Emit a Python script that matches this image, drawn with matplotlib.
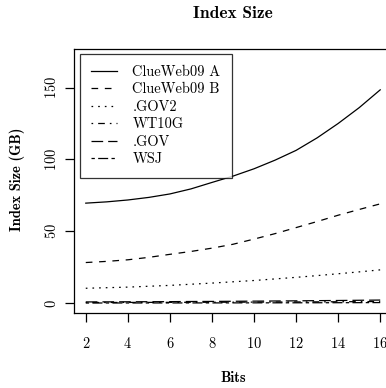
import matplotlib
matplotlib.use("Agg")
import matplotlib.pyplot as plt

plt.rcParams["font.family"] = ["cmr10", "DejaVu Serif"]
plt.rcParams["axes.formatter.use_mathtext"] = True
plt.rcParams["lines.scale_dashes"] = False

bits = [2, 3, 4, 5, 6, 7, 8, 9, 10, 11, 12, 13, 14, 15, 16]
clueweb_a = [69.6, 70.5, 71.8, 73.6, 76.0, 79.5, 84.0, 88.4, 93.5, 99.5, 106.3, 115.0, 125.0, 136.0, 148.4]
clueweb_b = [28.3, 29.1, 30.2, 31.9, 34.0, 36.0, 38.3, 41.0, 44.6, 48.4, 52.6, 56.8, 61.2, 65.2, 69.1]
gov2 = [10.4, 10.8, 11.2, 11.8, 12.4, 13.2, 14.0, 14.9, 15.8, 16.9, 18.0, 19.2, 20.5, 21.8, 23.2]
wt10g = [0.5, 0.52, 0.55, 0.58, 0.6, 0.64, 0.68, 0.72, 0.77, 0.82, 0.88, 0.95, 1.02, 1.1, 1.2]
gov = [0.9, 0.95, 1.0, 1.05, 1.1, 1.2, 1.25, 1.35, 1.45, 1.55, 1.65, 1.8, 1.9, 2.05, 2.2]
wsj = [0.15, 0.16, 0.17, 0.18, 0.19, 0.2, 0.22, 0.24, 0.26, 0.28, 0.3, 0.33, 0.36, 0.4, 0.45]

labels = ["ClueWeb09 A", "ClueWeb09 B", ".GOV2", "WT10G", ".GOV", "WSJ"]
series = [clueweb_a, clueweb_b, gov2, wt10g, gov, wsj]
# R lty 1..6
styles = ["-", (0, (4.8, 4.8)), (0, (1.2, 3.6)), (0, (1.2, 3.6, 4.8, 3.6)),
          (0, (8.4, 3.6)), (0, (2.4, 2.4, 7.2, 2.4))]

fs = 10.4
fig = plt.figure(figsize=(3.86, 3.88), dpi=100)
ax = fig.add_axes([0.1917, 0.1933, 0.8238, 0.6804])

for vals, lab, ls in zip(series, labels, styles):
    ax.plot(bits, vals, color="black", linewidth=0.9, linestyle=ls, label=lab)

ax.set_xlim(1.44, 16.56)
ax.set_ylim(-6.8, 176.8)
ax.set_xticks(range(2, 17, 2))
ax.set_yticks([0, 50, 100, 150])
for s in ax.spines.values():
    s.set_linewidth(0.9)
ax.tick_params(axis="both", direction="out", length=6.2, width=0.9, labelsize=fs)
ax.tick_params(axis="x", pad=10.5)
ax.tick_params(axis="y", pad=4.5)
for t in ax.get_yticklabels():
    t.set_rotation(90)
    t.set_va("center")

leg = ax.legend(loc="upper left", bbox_to_anchor=(0.019, 0.981), borderaxespad=0,
                fontsize=fs, frameon=True, fancybox=False, edgecolor="black",
                handlelength=1.8, handletextpad=1.05, labelspacing=0.26,
                borderpad=0.78)
leg.get_frame().set_linewidth(0.9)

cx = 0.1917 + 0.8238 / 2
fig.text(cx, 1 - 14 / 388, "Index Size", ha="center", va="center",
         fontsize=12.5, family="cmb10")
fig.text(cx, 1 - 378 / 388, "Bits", ha="center", va="center",
         fontsize=fs, family="cmb10")
fig.text(17 / 386, 1 - 179 / 388, "Index Size (GB)",
         ha="center", va="center", rotation=90, fontsize=fs, family="cmb10")

fig.savefig("out.png", dpi=100)
